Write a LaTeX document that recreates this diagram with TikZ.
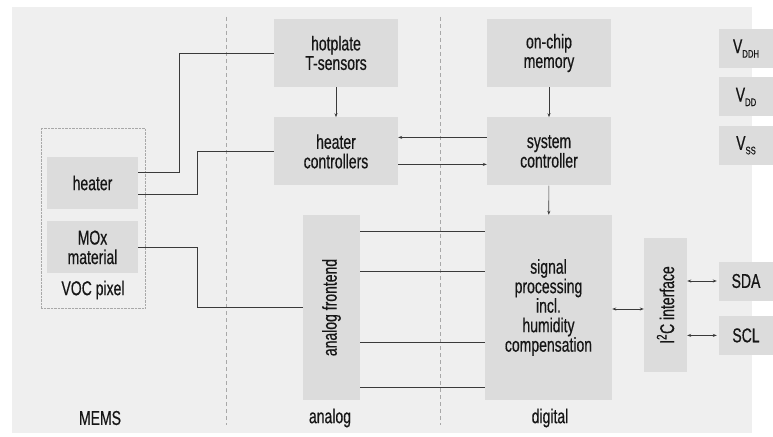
\documentclass[tikz,border=0pt]{standalone}
\usepackage{fontspec}
\setmainfont{Liberation Sans}[FakeStretch=0.70, FakeBold=0.5]
\usetikzlibrary{positioning, arrows.meta}

\definecolor{panelgrey}{HTML}{EFEFEF}
\definecolor{blockgrey}{HTML}{DCDCDC}
\definecolor{wiregrey}{HTML}{3A3A3A}
\definecolor{sepgrey}{HTML}{A8A8A8}
\definecolor{textgrey}{HTML}{161616}

\tikzstyle{block} = [rectangle, fill=blockgrey, minimum width=124pt, minimum height=68pt, inner sep=0pt, align=center, text=textgrey, font=\fontsize{20}{19.5}\selectfont]
\tikzstyle{padbox} = [block, minimum width=54pt, minimum height=39pt]
\tikzstyle{plaintext} = [text=textgrey, font=\fontsize{20}{19.5}\selectfont]
\tikzstyle{wire} = [draw=wiregrey, line width=0.7pt]
\tikzstyle{arrow} = [wire, -{Stealth[length=4pt,width=3pt]}]
\tikzstyle{dualarrow} = [wire, {Stealth[length=4pt,width=3pt]}-{Stealth[length=4pt,width=3pt]}]
\tikzstyle{sepline} = [draw=sepgrey, line width=0.7pt, dash pattern=on 4pt off 3pt]

\newcommand{\supply}[1]{V\raisebox{-4.5pt}{\fontsize{11}{11}\selectfont #1}}

\begin{document}
\begin{tikzpicture}[x=1pt, y=-1pt]
    \useasboundingbox (0,0) rectangle (773,436);
    \fill[panelgrey] (12,7) rectangle (752,433);

    %Domain separators
    \draw [sepline] (226,17) -- (226,425);
    \draw [sepline] (440,17) -- (440,425);

    %MEMS side
    \node (pixel) [rectangle, draw=sepgrey, densely dotted, minimum width=104pt, minimum height=180pt] at (93,218) {};
    \node (heater) [block, minimum width=91pt, minimum height=52pt] at (92.5,183) {heater};
    \node (mox) [block, minimum width=91pt, minimum height=52pt, below=12pt of heater] {MOx\\material};
    \node (pixelName) [plaintext] at (93,290) {VOC pixel};

    %Analog blocks
    \node (hot) [block] at (336,53) {hotplate\\T-sensors};
    \node (heatCtl) [block, below=30pt of hot] {heater\\controllers};
    \node (afe) [block, minimum width=57pt, minimum height=185pt] at (331.5,307.5) {\rotatebox{90}{analog frontend}};

    %Digital blocks
    \node (mem) [block] at (549,53) {on-chip\\memory};
    \node (sysCtl) [block, below=30pt of mem] {system\\controller};
    \node (dsp) [block, minimum width=127pt, minimum height=185pt] at (548.5,307.5) {signal\\processing\\incl.\\humidity\\compensation};
    \node (i2c) [block, minimum width=43pt, minimum height=134pt] at (665.5,305) {\rotatebox{90}{I\textsuperscript{2}C interface}};

    %Pins
    \node (vddh) [padbox] at (746,48.5) {\supply{DDH}};
    \node (vdd) [padbox, below=9pt of vddh] {\supply{DD}};
    \node (vss) [padbox, below=9pt of vdd] {\supply{SS}};
    \node (sda) [padbox] at (746,281) {SDA};
    \node (scl) [padbox, below=15pt of sda] {SCL};

    %Domain names
    \node (mems) [plaintext] at (100,418) {MEMS};
    \node (analog) [plaintext] at (330,418) {analog};
    \node (digital) [plaintext] at (550,418) {digital};

    %Wires
    \draw [wire] ([yshift=11pt]heater.east) -- ++(41,0) |- (hot.west);
    \draw [wire] ([yshift=-11pt]heater.east) -- ++(59,0) |- (heatCtl.west);
    \draw [wire] (mox.east) -- ++(59,0) |- (afe.west);
    \foreach \y in {231,271,342,387}
        \draw [wire] (afe.east |- 0,\y) -- (dsp.west |- 0,\y);

    %Arrows
    \draw [arrow] (hot) -- (heatCtl);
    \draw [arrow] (mem) -- (sysCtl);
    \draw [arrow] (sysCtl) -- (dsp);
    \draw [arrow] ([yshift=14pt]sysCtl.west) -- ([yshift=14pt]heatCtl.east);
    \draw [arrow] ([yshift=-13pt]heatCtl.east) -- ([yshift=-13pt]sysCtl.west);
    \draw [dualarrow] (dsp.east |- 0,309) -- (i2c.west |- 0,309);
    \draw [dualarrow, shorten >=2pt] (i2c.east |- sda) -- (sda.west);
    \draw [dualarrow, shorten >=2pt] (i2c.east |- scl) -- (scl.west);
\end{tikzpicture}
\end{document}
